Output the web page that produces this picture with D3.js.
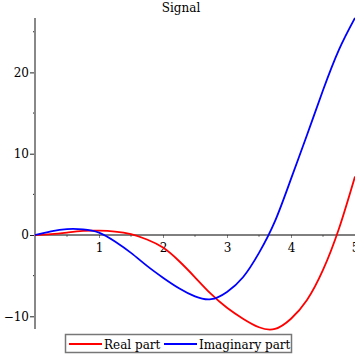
<!DOCTYPE html>
<html><head><meta charset="utf-8">
<script src="https://cdn.jsdelivr.net/npm/d3@7"></script>
<style>
html,body{margin:0;padding:0;background:#fff;}
svg{display:block;}
text{font-family:"DejaVu Serif",serif;}
</style></head>
<body>
<svg id="c" width="355" height="355"></svg>
<script>
const title = "Signal";
const tValues = [0,0.25,0.5,0.75,1,1.25,1.5,1.75,2,2.25,2.5,2.75,3,3.25,3.5,3.75,4,4.25,4.5,4.75,5];
const realPart = [0,0.1,0.3,0.5,0.53,0.42,0.1,-0.55,-1.55,-3.2,-5.2,-7.25,-8.95,-10.3,-11.35,-11.55,-10.3,-8.0,-4.3,0.8,7.2];
const imagPart = [0,0.45,0.73,0.7,0.3,-0.8,-2.2,-3.8,-5.25,-6.55,-7.55,-7.9,-7.0,-5.2,-2.2,1.7,6.9,12.3,17.8,22.8,26.7];
const seriesNames = ["Real part","Imaginary part"];
const seriesColors = ["#ff0000","#0000ff"];
const xMajorTicks = [1,2,3,4,5];
const xMinorTicks = [0.5,1.5,2.5,3.5,4.5];
const yMajorTicks = [-10,0,10,20];
const yMinorTicks = [-5,5,15,25];

const svg = d3.select("#c");
const x = d3.scaleLinear().domain([0,5]).range([35,355]);
const y = d3.scaleLinear().domain([-10,20]).range([316.3,72.4]);
const yMin = y.invert(329), yMax = y.invert(18);

// x axis
const xAxis = svg.append("g").attr("transform",`translate(0,${y(0)})`)
  .call(d3.axisBottom(x).tickValues(xMajorTicks).tickSize(3).tickPadding(5).tickFormat(d3.format("d")));
xAxis.select(".domain").remove();
xAxis.selectAll(".tick line").attr("stroke","#888");
xAxis.selectAll("text").attr("font-size",12).attr("font-family","DejaVu Serif").attr("fill","#000");
svg.append("g").selectAll("line").data(xMinorTicks).join("line")
  .attr("x1",d=>x(d)).attr("x2",d=>x(d)).attr("y1",y(0)).attr("y2",y(0)+2)
  .attr("stroke","#888");
svg.append("line").attr("x1",x(0)).attr("x2",x(5)).attr("y1",y(0)).attr("y2",y(0))
  .attr("stroke","#000").attr("stroke-width",1);

// y axis
const yAxis = svg.append("g").attr("transform",`translate(${x(0)},0)`)
  .call(d3.axisLeft(y).tickValues(yMajorTicks).tickSize(5).tickPadding(1));
yAxis.select(".domain").remove();
yAxis.selectAll(".tick line").attr("stroke","#222");
yAxis.selectAll("text").attr("font-size",12).attr("font-family","DejaVu Serif").attr("fill","#000")
  .text(d => d<0 ? "\u2212" + Math.abs(d) : d);
svg.append("g").selectAll("line").data(yMinorTicks).join("line")
  .attr("x1",x(0)-2).attr("x2",x(0)).attr("y1",d=>y(d)).attr("y2",d=>y(d))
  .attr("stroke","#222");
svg.append("line").attr("x1",x(0)).attr("x2",x(0)).attr("y1",y(yMax)).attr("y2",y(yMin))
  .attr("stroke","#888").attr("stroke-width",2);

// curves
const line = d3.line().curve(d3.curveNatural);
[realPart, imagPart].forEach((vals,i)=>{
  svg.append("path")
    .attr("d", line(tValues.map((t,k)=>[x(t), y(vals[k])])))
    .attr("fill","none").attr("stroke",seriesColors[i]).attr("stroke-width",1.8);
});

// title
svg.append("text").attr("x",181).attr("y",12).attr("text-anchor","middle")
  .attr("font-size",12).text(title);

// legend
const lg = svg.append("g");
lg.append("rect").attr("x",65.5).attr("y",334.5).attr("width",226).attr("height",18)
  .attr("fill","#fff").attr("stroke","#777").attr("stroke-width",1.5);
const lx = [69,164];
seriesNames.forEach((n,i)=>{
  lg.append("line").attr("x1",lx[i]).attr("x2",lx[i]+33).attr("y1",344).attr("y2",344)
    .attr("stroke",seriesColors[i]).attr("stroke-width",1.8);
  lg.append("text").attr("x",lx[i]+35).attr("y",348.5).attr("font-size",12).text(n);
});
</script>
</body></html>
